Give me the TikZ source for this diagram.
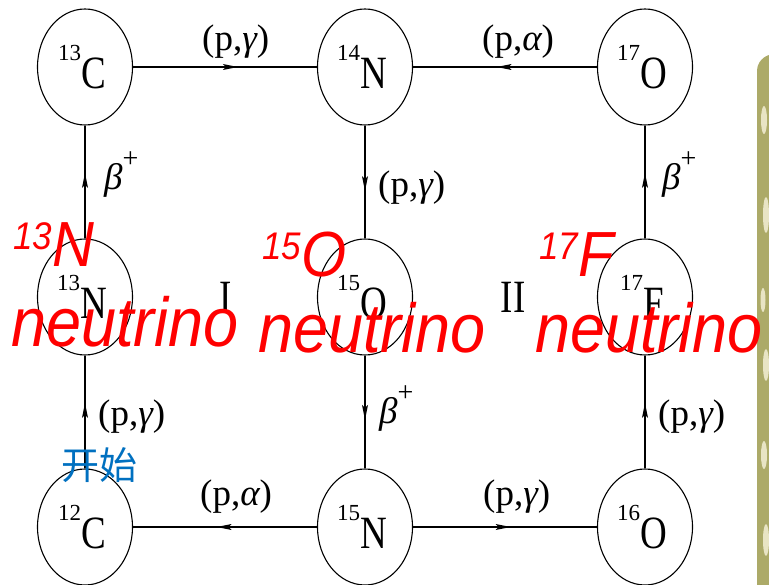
\documentclass[tikz,border=0pt]{standalone}
\usepackage{fontspec}
\setmainfont{Liberation Serif}
\newfontfamily\redsans{Liberation Sans}
\newfontfamily\cjk{Noto Sans CJK SC}
\usetikzlibrary{shapes.geometric,arrows.meta,decorations.markings}
\definecolor{startblue}{RGB}{0,112,192}
\definecolor{stripolive}{RGB}{172,170,104}
\definecolor{stripbeige}{RGB}{232,228,196}
\newcommand\nucl[2]{\raisebox{28pt}{\fontsize{23}{23}\selectfont #1}\scalebox{1}[1.25]{\fontsize{37}{37}\selectfont #2}\hspace*{6pt}}
\newcommand\bplus{{\itshape β}\raisebox{22pt}{\fontsize{28}{28}\selectfont +}}
\newcommand\redbig[2]{\scalebox{1}[1.1]{\raisebox{15.5pt}{\fontsize{35}{35}\selectfont #1}\fontsize{58}{58}\selectfont #2}}
\begin{document}
\begin{tikzpicture}[x=1pt,y=-1pt,
  nuc/.style={draw,ellipse,line width=1.1pt,minimum width=95pt,minimum height=116pt,inner sep=0pt},
  conn/.style={line width=1.1pt},
  midarr/.style={postaction={decorate},decoration={markings,mark=at position #1 with {\fill (0pt,0pt) -- (-15pt,3pt) -- (-12pt,0pt) -- (-15pt,-3pt) -- cycle;}}},
  midarr/.default=0.56,
  lab/.style={inner sep=0pt,anchor=base west,font=\fontsize{37}{37}\selectfont},
  roman/.style={inner sep=0pt},
  redtxt/.style={inner sep=0pt,anchor=base west,text=red,font=\redsans\itshape},
  neu/.style={redtxt,font=\redsans\itshape}
]
\useasboundingbox (0,0) rectangle (769,585);
% decorative strip at right edge
\fill[stripolive] (757,70) .. controls (758,58) and (769,55) .. (769,55) -- (769,585) -- (757,585) -- cycle;
\fill[stripbeige] (764,120) ellipse (3pt and 14pt);
\fill[stripbeige] (766,215) ellipse (3pt and 18pt);
\fill[stripbeige] (763,300) ellipse (2.5pt and 12pt);
\fill[stripbeige] (766,365) ellipse (3pt and 16pt);
\fill[stripbeige] (764,455) ellipse (3pt and 14pt);
\fill[stripbeige] (766,540) ellipse (3pt and 16pt);

% nuclei
\node[nuc] (c13) at (85,67) {\nucl{13}{C}};
\node[nuc] (n14) at (365,67) {\nucl{14}{N}};
\node[nuc] (o17) at (645,67) {\nucl{17}{O}};
\node[nuc] (n13) at (85,297) {\nucl{13}{N}};
\node[nuc] (o15) at (365,297) {\nucl{15}{O}};
\node[nuc] (f17) at (645,297) {\nucl{17}{F}};
\node[nuc] (c12) at (85,527) {\nucl{12}{C}};
\node[nuc] (n15) at (365,527) {\nucl{15}{N}};
\node[nuc] (o16) at (645,527) {\nucl{16}{O}};

% connectors
\draw[conn,midarr=0.57] (c13) -- (n14);
\draw[conn,midarr=0.545] (o17) -- (n14);
\draw[conn,midarr=0.58] (n14) -- (o15);
\draw[conn,midarr=0.58] (n13) -- (c13);
\draw[conn,midarr=0.58] (f17) -- (o17);
\draw[conn,midarr=0.58] (c12) -- (n13);
\draw[conn,midarr=0.57] (o15) -- (n15);
\draw[conn,midarr=0.58] (o16) -- (f17);
\draw[conn,midarr=0.545] (n15) -- (c12);
\draw[conn,midarr=0.53] (n15) -- (o16);

% reaction labels
\node[lab] (l1) at (202,51) {(p,{\itshape γ})};
\node[lab] (l2) at (482,51) {(p,{\itshape α})};
\node[lab] (l3) at (378,197) {(p,{\itshape γ})};
\node[lab] (l4) at (104,190) {\bplus};
\node[lab] (l5) at (662,190) {\bplus};
\node[lab] (l6) at (98,425) {(p,{\itshape γ})};
\node[lab] (l7) at (379,424) {\bplus};
\node[lab] (l8) at (658,425) {(p,{\itshape γ})};
\node[lab] (l9) at (200,505) {(p,{\itshape α})};
\node[lab] (l10) at (483,505) {(p,{\itshape γ})};

% cycle numbers
\node[roman] (cyc1) at (226,297) {\scalebox{1}[1.25]{\fontsize{37}{37}\selectfont I}};
\node[roman] (cyc2) at (513,297) {\scalebox{1}[1.25]{\fontsize{37}{37}\selectfont II}};

% start label
\node[inner sep=0pt,text=startblue,font=\cjk\fontsize{38}{38}\selectfont] (start) at (99,465) {开始};

% red overlays
\node[redtxt] (r1) at (13,267) {\redbig{13}{N}};
\node[neu] (r1n) at (11,347) {\scalebox{1}[1.1]{\fontsize{63}{63}\selectfont neutrino}};
\node[redtxt] (r2) at (262,277) {\redbig{15}{O}};
\node[neu] (r2n) at (258,353) {\scalebox{1}[1.1]{\fontsize{63}{63}\selectfont neutrino}};
\node[redtxt] (r3) at (539,277) {\redbig{17}{F}};
\node[neu] (r3n) at (535,353) {\scalebox{1}[1.1]{\fontsize{63}{63}\selectfont neutrino}};
\end{tikzpicture}
\end{document}
